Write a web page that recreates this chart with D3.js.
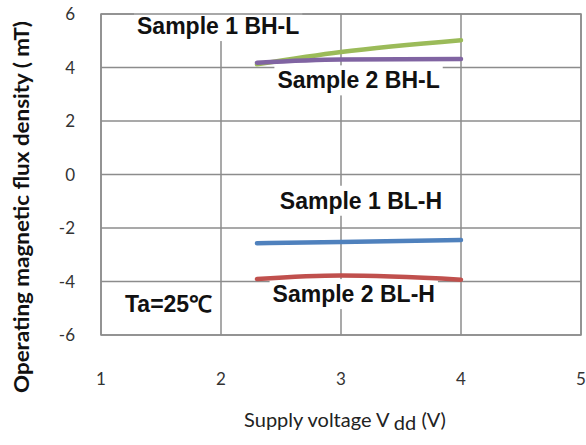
<!DOCTYPE html>
<html>
<head>
<meta charset="utf-8">
<script src="https://cdn.jsdelivr.net/npm/d3@7"></script>
<style>
  body { margin: 0; background: #fff; }
  svg { display: block; }
</style>
</head>
<body>
<svg id="chart" width="586" height="445"></svg>
<script>
// supply voltage (V) where each curve was measured
var voltages = [2.3, 3.0, 4.0];

// operating flux density (mT)
var sample1BH = [4.12, 4.58, 5.02];
var sample2BH = [4.18, 4.30, 4.32];
var sample1BL = [-2.57, -2.52, -2.45];
var sample2BL = [-3.91, -3.78, -3.93];

var xTicks = [1, 2, 3, 4, 5];
var yTicks = [6, 4, 2, 0, -2, -4, -6];

var seriesNames = ["Sample 1 BH-L", "Sample 2 BH-L", "Sample 1 BL-H", "Sample 2 BL-H"];
var seriesColors = ["#9bbb59", "#8064a2", "#4f81bd", "#c0504d"];

var margin = {left: 101, top: 14, right: 5, bottom: 110};
var width = 586 - margin.left - margin.right,
    height = 445 - margin.top - margin.bottom;

var svg = d3.select("#chart");
var g = svg.append("g").attr("transform", "translate(" + margin.left + "," + margin.top + ")");

var x = d3.scaleLinear().domain([1, 5]).range([0, width]);
var y = d3.scaleLinear().domain([-6, 6]).range([height, 0]);

// grid
g.selectAll(".hgrid").data(yTicks).enter().append("line")
  .attr("x1", 0).attr("x2", width)
  .attr("y1", function(d){ return y(d); }).attr("y2", function(d){ return y(d); })
  .style("stroke", "#8c8c8c").style("stroke-width", 1.5);
g.selectAll(".vgrid").data(xTicks).enter().append("line")
  .attr("y1", 0).attr("y2", height)
  .attr("x1", function(d){ return x(d); }).attr("x2", function(d){ return x(d); })
  .style("stroke", "#8c8c8c").style("stroke-width", 1.5);

// tick labels
g.selectAll(".xt").data(xTicks).enter().append("text")
  .attr("x", function(d){ return x(d); })
  .attr("y", height + 50)
  .attr("text-anchor", "middle")
  .style("font-family", "Lato, sans-serif").style("font-size", "17px").style("fill", "#333")
  .text(function(d){ return d; });
g.selectAll(".yt").data(yTicks).enter().append("text")
  .attr("x", -26)
  .attr("y", function(d){ return y(d) + 6; })
  .attr("text-anchor", "end")
  .style("font-family", "Lato, sans-serif").style("font-size", "17px").style("fill", "#333")
  .text(function(d){ return d; });

// axis titles
svg.append("text")
  .attr("transform", "translate(29,207) rotate(-90)")
  .attr("text-anchor", "middle")
  .attr("textLength", 372).attr("lengthAdjust", "spacingAndGlyphs")
  .style("font-family", "Lato, sans-serif").style("font-weight", "bold").style("font-size", "21px")
  .style("fill", "#111")
  .text("Operating magnetic flux density ( mT)");

var xt = svg.append("text")
  .attr("x", 345).attr("y", 427)
  .attr("text-anchor", "middle")
  .style("font-family", "Lato, sans-serif").style("font-size", "20px").style("fill", "#222");
xt.append("tspan").text("Supply voltage V ");
xt.append("tspan").attr("dy", 3).text("dd");
xt.append("tspan").attr("dy", -3).text(" (V)");

// curves
var allSeries = [sample1BH, sample2BH, sample1BL, sample2BL];
var line = d3.line()
  .x(function(d, i){ return x(voltages[i]); })
  .y(function(d){ return y(d); })
  .curve(d3.curveMonotoneX);

// labels with white boxes (they hide the grid behind them)
var labelSpots = [
  {x: 1.3, y: 5.25},
  {x: 2.47, y: 3.22},
  {x: 2.49, y: -1.28},
  {x: 2.43, y: -4.77}
];
function addLabel(txt, px, py) {
  var t = g.append("text")
    .attr("x", px).attr("y", py)
    .style("font-family", "'Liberation Sans', Arial, sans-serif")
    .style("font-weight", "bold").style("font-size", "23px").style("fill", "#111")
    .text(txt);
  var b = t.node().getBBox();
  g.insert("rect", function(){ return t.node(); })
    .attr("x", b.x - 3).attr("y", b.y - 2)
    .attr("width", b.width + 6).attr("height", b.height + 4)
    .style("fill", "#fff");
}
seriesNames.forEach(function(name, i){
  addLabel(name, x(labelSpots[i].x), y(labelSpots[i].y));
});
addLabel("Ta=25\u2103", x(1.2), y(-5.15));

g.selectAll(".curve").data(allSeries).enter().append("path")
  .attr("d", line)
  .style("fill", "none")
  .style("stroke", function(d, i){ return seriesColors[i]; })
  .style("stroke-width", 4.5)
  .style("stroke-linecap", "round");

// plot border
g.append("rect").attr("width", width).attr("height", height)
  .style("fill", "none").style("stroke", "#8c8c8c").style("stroke-width", 1.5);
</script>
</body>
</html>
